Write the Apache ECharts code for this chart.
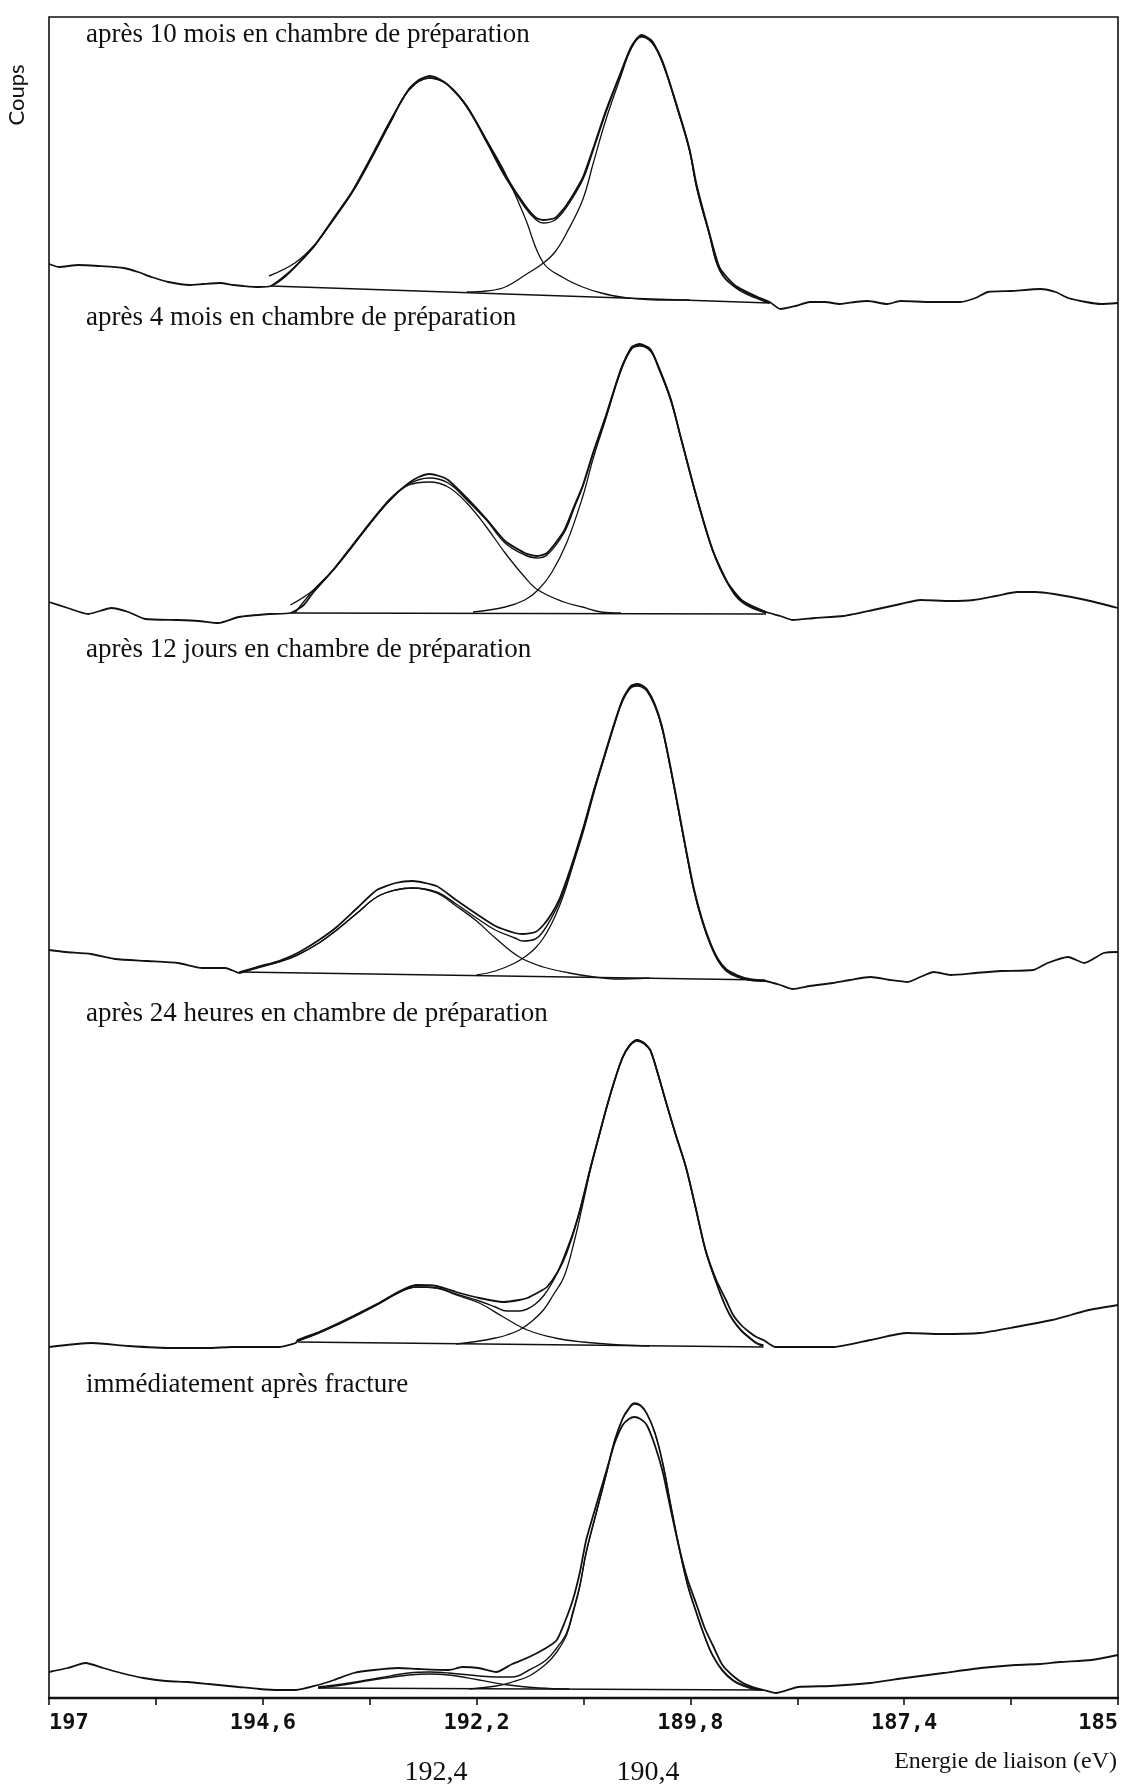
<!DOCTYPE html>
<html>
<head>
<meta charset="utf-8">
<script src="https://cdn.jsdelivr.net/npm/echarts@6/dist/echarts.min.js"></script>
<style>
html,body{margin:0;padding:0;background:#fff;}
#chart{width:1137px;height:1789px;}
</style>
</head>
<body>
<div id="chart"></div>
<script>
// ---- axis / text data ----
const xTickValues = [197, 194.6, 192.2, 189.8, 187.4, 185];
const xTickLabels = ['197', '194,6', '192,2', '189,8', '187,4', '185'];
const panelTitles = [
  'après 10 mois en chambre de préparation',
  'après 4 mois en chambre de préparation',
  'après 12 jours en chambre de préparation',
  'après 24 heures en chambre de préparation',
  'immédiatement après fracture'
];
const peakLabels = ['192,4', '190,4'];
const yLabel = 'Coups';
const xLabel = 'Energie de liaison (eV)';

// ---- panel 1 : après 10 mois  ([energie eV, coups]) ----
const p1Raw = [[197.00,46],[196.89,43],[196.67,45],[196.45,44],[196.16,42],[196.00,38],[195.85,33],[195.66,28],[195.42,25],[195.27,26],[195.08,27],[194.93,25],[194.82,24],[194.65,23],[194.51,24],[194.37,32],[194.24,43],[194.03,63],[193.81,91],[193.60,118],[193.39,152],[193.17,189],[192.96,221],[192.85,230],[192.73,234],[192.62,231],[192.52,225],[192.31,204],[192.09,170],[191.88,135],[191.66,105],[191.53,92],[191.45,90],[191.32,92],[191.19,105],[191.01,132],[190.89,162],[190.75,199],[190.58,238],[190.46,264],[190.35,275],[190.23,269],[190.11,248],[189.94,201],[189.81,161],[189.73,125],[189.59,78],[189.47,42],[189.29,24],[189.07,14],[188.91,8],[188.79,1],[188.62,4],[188.46,8],[188.29,8],[188.12,6],[187.95,8],[187.81,9],[187.59,6],[187.44,9],[187.10,8],[186.77,8],[186.60,12],[186.46,18],[186.20,19],[185.87,21],[185.70,18],[185.56,12],[185.36,8],[185.19,6],[185.00,7]];
const p1Fit = [[194.53,34],[194.24,47],[194.03,64],[193.81,90],[193.60,117],[193.39,150],[193.17,187],[192.96,220],[192.73,232],[192.52,225],[192.31,203],[192.09,168],[191.88,133],[191.66,103],[191.53,90],[191.45,87],[191.32,90],[191.19,103],[191.01,130],[190.89,160],[190.75,197],[190.58,237],[190.46,263],[190.35,274],[190.23,268],[190.11,247],[189.94,200],[189.81,160],[189.73,123],[189.59,77],[189.47,40],[189.29,23],[189.07,13],[188.91,7]];
const p1Peak1 = [[194.51,24],[194.46,27],[194.24,43],[194.03,63],[193.81,90],[193.60,117],[193.39,150],[193.17,187],[192.96,220],[192.73,232],[192.52,225],[192.31,203],[192.09,170],[191.88,137],[191.66,93],[191.45,47],[191.22,32],[191.01,23],[190.80,17],[190.58,13],[190.16,10],[189.81,10]];
const p1Peak2 = [[192.31,18],[192.09,19],[191.88,23],[191.62,37],[191.45,47],[191.32,58],[191.19,77],[191.01,110],[190.89,147],[190.75,190],[190.58,234],[190.46,262],[190.35,273],[190.23,267],[190.11,246],[189.94,199],[189.81,159],[189.73,122],[189.59,76],[189.47,39],[189.29,22],[189.07,12],[188.91,7]];
const p1Base = [[194.51,24],[188.91,7]];

// ---- panel 2 : après 4 mois ----
const p2Raw = [[197.00,28],[196.79,22],[196.56,16],[196.30,22],[196.11,18],[195.92,11],[195.55,10],[195.32,9],[195.10,7],[194.87,13],[194.53,16],[194.29,17],[194.14,25],[194.03,38],[193.81,60],[193.60,84],[193.39,108],[193.17,131],[192.96,147],[192.85,153],[192.73,156],[192.62,154],[192.52,150],[192.31,132],[192.09,111],[191.88,89],[191.66,77],[191.53,74],[191.41,77],[191.22,99],[191.10,125],[191.01,144],[190.89,178],[190.75,214],[190.58,261],[190.46,283],[190.37,286],[190.25,281],[190.16,264],[190.02,231],[189.90,190],[189.73,133],[189.55,80],[189.38,47],[189.21,29],[188.95,18],[188.79,14],[188.65,10],[188.40,12],[188.08,14],[187.75,20],[187.44,26],[187.22,30],[186.88,29],[186.62,30],[186.37,34],[186.13,38],[185.93,38],[185.72,36],[185.36,30],[185.00,22]];
const p2Fit = [[194.29,25],[194.03,40],[193.81,60],[193.60,83],[193.39,107],[193.17,130],[192.96,146],[192.73,152],[192.52,147],[192.31,130],[192.09,110],[191.88,87],[191.66,75],[191.53,72],[191.41,75],[191.22,97],[191.10,123],[191.01,143],[190.89,177],[190.75,213],[190.58,260],[190.46,282],[190.37,285],[190.25,280],[190.16,263],[190.02,230],[189.90,190],[189.73,133],[189.55,80],[189.38,47],[189.21,28],[188.95,18]];
const p2Peak1 = [[194.24,17],[194.03,40],[193.81,60],[193.60,83],[193.39,107],[193.17,130],[192.96,145],[192.73,148],[192.52,143],[192.31,127],[192.09,103],[191.88,77],[191.66,53],[191.51,40],[191.22,28],[191.01,23],[190.80,18],[190.58,17]];
const p2Peak2 = [[192.24,18],[191.88,23],[191.66,30],[191.51,40],[191.36,57],[191.19,87],[191.01,133],[190.89,172],[190.75,211],[190.58,259],[190.46,281],[190.37,284],[190.25,279],[190.16,262],[190.02,229],[189.90,189],[189.73,132],[189.55,79],[189.38,46],[189.21,27],[188.95,17]];
const p2Base = [[194.29,17],[188.95,16]];

// ---- panel 3 : après 12 jours ----
const p3Raw = [[197.00,50],[196.82,48],[196.53,46],[196.26,41],[195.89,39],[195.55,37],[195.28,32],[195.02,32],[194.86,27],[194.66,33],[194.42,39],[194.21,47],[193.97,60],[193.77,73],[193.54,92],[193.32,110],[193.11,117],[192.92,119],[192.65,114],[192.43,100],[192.20,86],[191.99,74],[191.77,67],[191.68,66],[191.54,68],[191.45,75],[191.36,86],[191.27,101],[191.19,120],[191.10,144],[190.99,176],[190.88,211],[190.76,246],[190.65,278],[190.56,301],[190.47,314],[190.40,316],[190.35,315],[190.29,311],[190.20,296],[190.12,274],[190.03,236],[189.94,194],[189.85,151],[189.76,111],[189.67,81],[189.58,58],[189.49,41],[189.40,31],[189.28,25],[189.14,21],[188.96,19],[188.79,15],[188.65,11],[188.46,14],[188.20,17],[188.01,20],[187.78,23],[187.56,20],[187.36,18],[187.22,23],[187.07,28],[186.88,25],[186.60,27],[186.32,29],[185.95,30],[185.79,37],[185.56,43],[185.38,37],[185.16,47],[185.00,48]];
const p3Fit = [[194.86,28],[194.66,33],[194.42,38],[194.21,45],[193.97,57],[193.77,70],[193.54,87],[193.32,103],[193.11,110],[192.92,112],[192.65,108],[192.43,96],[192.20,82],[191.99,70],[191.77,62],[191.68,59],[191.54,61],[191.45,69],[191.36,82],[191.27,98],[191.19,117],[191.10,142],[190.99,175],[190.88,210],[190.76,245],[190.65,277],[190.56,300],[190.47,313],[190.40,315],[190.35,314],[190.29,310],[190.20,295],[190.12,273],[190.03,235],[189.94,193],[189.85,150],[189.76,110],[189.67,80],[189.58,57],[189.49,40],[189.40,30],[189.28,24],[189.14,20],[188.96,19]];
const p3Peak1 = [[194.86,28],[194.66,32],[194.42,38],[194.21,45],[193.97,57],[193.77,70],[193.54,87],[193.32,103],[193.11,110],[192.92,112],[192.65,107],[192.43,94],[192.20,79],[191.99,62],[191.72,43],[191.45,33],[191.16,27],[190.88,23],[190.65,21],[190.26,22]];
const p3Peak2 = [[192.20,25],[191.99,29],[191.77,37],[191.63,45],[191.54,52],[191.45,62],[191.36,76],[191.27,94],[191.19,114],[191.10,140],[190.99,172],[190.88,208],[190.76,244],[190.65,276],[190.56,299],[190.47,312],[190.40,314],[190.35,313],[190.29,309],[190.20,294],[190.12,272],[190.03,234],[189.94,192],[189.85,149],[189.76,109],[189.67,79],[189.58,56],[189.49,39],[189.40,29],[189.28,23],[189.14,20],[188.96,19]];
const p3Base = [[194.86,28],[188.96,20]];

// ---- panel 4 : après 24 heures ----
const p4Raw = [[197.00,13],[196.52,17],[196.11,14],[195.62,12],[195.21,12],[194.95,13],[194.71,13],[194.42,13],[194.23,17],[194.21,20],[193.97,28],[193.77,36],[193.54,46],[193.32,56],[193.06,69],[192.88,75],[192.65,74],[192.43,68],[192.17,62],[191.90,58],[191.72,60],[191.63,62],[191.50,68],[191.41,73],[191.29,88],[191.19,107],[191.06,143],[190.92,193],[190.83,223],[190.74,253],[190.65,280],[190.56,303],[190.48,315],[190.40,320],[190.32,317],[190.25,310],[190.17,288],[190.08,260],[189.97,227],[189.85,193],[189.74,152],[189.63,110],[189.51,80],[189.40,60],[189.32,45],[189.23,35],[189.14,28],[189.06,23],[188.98,20],[188.85,13],[188.57,13],[188.19,13],[187.78,20],[187.37,27],[186.99,26],[186.55,27],[186.15,33],[185.74,40],[185.53,45],[185.33,50],[185.00,55]];
const p4Fit = [[194.21,19],[193.97,27],[193.77,35],[193.54,45],[193.32,55],[193.06,68],[192.88,73],[192.65,72],[192.43,66],[192.17,59],[191.99,53],[191.86,49],[191.72,49],[191.63,51],[191.54,56],[191.45,64],[191.36,76],[191.27,92],[191.19,110],[191.10,132],[191.01,160],[190.92,193],[190.83,223],[190.74,253],[190.65,280],[190.56,303],[190.48,315],[190.40,320],[190.32,317],[190.25,310],[190.17,288],[190.08,260],[189.97,227],[189.85,193],[189.74,152],[189.63,110],[189.51,78],[189.40,53],[189.32,40],[189.23,30],[189.14,23],[189.05,17],[188.98,15]];
const p4Peak1 = [[194.21,19],[193.97,27],[193.77,35],[193.54,45],[193.32,55],[193.06,68],[192.88,73],[192.65,72],[192.43,65],[192.17,57],[191.90,43],[191.63,30],[191.32,22],[191.01,18],[190.59,15],[190.26,14]];
const p4Peak2 = [[192.43,16],[192.17,19],[191.99,22],[191.86,25],[191.72,30],[191.59,38],[191.45,50],[191.34,65],[191.22,83],[191.10,120],[191.01,155],[190.92,191],[190.83,222],[190.74,252],[190.65,279],[190.56,302],[190.48,314],[190.40,319],[190.32,316],[190.25,309],[190.17,287],[190.08,259],[189.97,226],[189.85,192],[189.74,151],[189.63,109],[189.51,77],[189.40,52],[189.32,39],[189.23,29],[189.14,22],[189.05,16],[188.98,14]];
const p4Base = [[194.21,18],[188.98,13]];

// ---- panel 5 : immédiatement après fracture ----
const p5Raw = [[197.00,26],[196.79,30],[196.59,35],[196.39,30],[196.19,25],[195.94,20],[195.69,17],[195.44,16],[195.21,14],[194.87,11],[194.64,9],[194.42,8],[194.23,8],[193.98,13],[193.80,18],[193.58,25],[193.35,28],[193.08,30],[192.85,29],[192.51,28],[192.36,31],[192.18,30],[191.98,26],[191.80,34],[191.61,41],[191.42,50],[191.30,58],[191.21,76],[191.12,98],[191.04,126],[190.97,158],[190.85,195],[190.74,228],[190.65,255],[190.56,273],[190.49,279],[190.43,281],[190.36,279],[190.29,273],[190.20,253],[190.11,226],[190.02,188],[189.92,148],[189.83,118],[189.73,93],[189.64,70],[189.55,53],[189.44,33],[189.32,22],[189.21,15],[189.10,11],[188.98,8],[188.84,5],[188.59,11],[188.23,12],[187.78,15],[187.39,20],[186.96,25],[186.54,30],[186.15,33],[185.87,34],[185.65,36],[185.30,38],[185.00,43]];
const p5Fit = [[193.98,11],[193.63,15],[193.30,20],[192.96,25],[192.73,26],[192.51,25],[192.17,22],[191.98,21],[191.80,21],[191.61,28],[191.42,38],[191.30,50],[191.19,65],[191.12,86],[191.04,113],[190.97,146],[190.85,188],[190.74,226],[190.65,258],[190.56,280],[190.49,290],[190.43,295],[190.36,293],[190.29,285],[190.20,266],[190.11,235],[190.02,193],[189.92,148],[189.83,113],[189.73,85],[189.64,62],[189.55,43],[189.44,28],[189.32,18],[189.21,13],[189.10,10],[188.98,8]];
const p5Peak1 = [[193.98,10],[193.63,14],[193.30,19],[192.96,23],[192.73,24],[192.51,23],[192.17,18],[191.84,13],[191.50,10],[191.16,9]];
const p5Peak2 = [[192.28,9],[191.98,12],[191.80,16],[191.61,22],[191.42,34],[191.30,46],[191.19,63],[191.12,84],[191.04,112],[190.97,145],[190.85,187],[190.74,225],[190.65,257],[190.56,279],[190.49,289],[190.43,294],[190.36,292],[190.29,284],[190.20,265],[190.11,234],[190.02,192],[189.92,147],[189.83,112],[189.73,84],[189.64,61],[189.55,42],[189.44,27],[189.32,17],[189.21,12],[189.10,9],[188.98,8]];
const p5Base = [[193.98,10],[188.98,8]];

// ---- layout ----
const W = 1137, H = 1789;
const plotLeft = 49, plotRight = 19;
const frameTop = 17, axisY = 1698;
const panelBoxes = [ // [top, height] of each stacked panel (count range 0..height)
  [10, 300], [330, 300], [660, 340], [1020, 340], [1380, 318]
];
const titleTops = [21, 304, 636, 1000, 1371];
const panels = [
  {raw: p1Raw, fit: p1Fit, c1: p1Peak1, c2: p1Peak2, bg: p1Base},
  {raw: p2Raw, fit: p2Fit, c1: p2Peak1, c2: p2Peak2, bg: p2Base},
  {raw: p3Raw, fit: p3Fit, c1: p3Peak1, c2: p3Peak2, bg: p3Base},
  {raw: p4Raw, fit: p4Fit, c1: p4Peak1, c2: p4Peak2, bg: p4Base},
  {raw: p5Raw, fit: p5Fit, c1: p5Peak1, c2: p5Peak2, bg: p5Base}
];

const ink = '#111111';
const serif = '"Liberation Serif", "Times New Roman", serif';

const grids = [{left: plotLeft, right: plotRight, top: frameTop, bottom: H - axisY,
  show: true, borderColor: ink, borderWidth: 1.6, backgroundColor: 'transparent'}];
const xAxes = [{
  gridIndex: 0, type: 'value', min: 185, max: 197, interval: 1.2, inverse: true,
  axisLine: {show: true, onZero: false, lineStyle: {color: ink, width: 2.4}},
  axisTick: {show: true, length: 7, inside: false, lineStyle: {color: ink, width: 1.6}},
  splitLine: {show: false},
  axisLabel: {
    margin: 14, color: ink, fontFamily: 'DejaVu Sans Mono', fontWeight: 'bold', fontSize: 22,
    alignMinLabel: 'right', alignMaxLabel: 'left',
    formatter: function (v) {
      for (let i = 0; i < xTickValues.length; i++) {
        if (Math.abs(v - xTickValues[i]) < 0.01) return xTickLabels[i];
      }
      return '';
    }
  }
}];
const yAxes = [{gridIndex: 0, type: 'value', min: 0, max: 1, show: false}];
const series = [];

panels.forEach(function (p, i) {
  const g = i + 1;
  grids.push({left: plotLeft, right: plotRight, top: panelBoxes[i][0], height: panelBoxes[i][1], show: false});
  xAxes.push({gridIndex: g, type: 'value', min: 185, max: 197, inverse: true, show: false});
  yAxes.push({gridIndex: g, type: 'value', min: 0, max: panelBoxes[i][1], show: false});
  const mk = function (name, data, width, smooth) {
    return {name: name, type: 'line', xAxisIndex: g, yAxisIndex: g, data: data,
      showSymbol: false, smooth: smooth, silent: true, animation: false,
      lineStyle: {color: ink, width: width}, z: 3};
  };
  series.push(mk('base' + g, p.bg, 1.6, false));
  series.push(mk('pic1_' + g, p.c1, 1.3, 0.4));
  series.push(mk('pic2_' + g, p.c2, 1.3, 0.4));
  series.push(mk('fit' + g, p.fit, 1.4, 0.4));
  series.push(mk('raw' + g, p.raw, 1.8, 0.2));
});

const titles = panelTitles.map(function (t, i) {
  return {text: t, left: 86, top: titleTops[i], padding: 0,
    textStyle: {fontFamily: serif, fontSize: 27, fontWeight: 'normal', color: ink}};
});

const chart = echarts.init(document.getElementById('chart'), null, {renderer: 'canvas', width: W, height: H});
chart.setOption({
  backgroundColor: '#fff',
  animation: false,
  title: titles,
  grid: grids,
  xAxis: xAxes,
  yAxis: yAxes,
  series: series,
  graphic: [
    {type: 'text', x: 17, y: 95, rotation: Math.PI / 2,
      style: {text: yLabel, fill: ink, font: '22px Lato', textAlign: 'center', textVerticalAlign: 'middle'}},
    {type: 'text', x: 1117, y: 1762,
      style: {text: xLabel, fill: ink, font: '24px "Liberation Serif"', textAlign: 'right', textVerticalAlign: 'middle'}},
    {type: 'text', x: 436, y: 1773,
      style: {text: peakLabels[0], fill: ink, font: '28px "Liberation Serif"', textAlign: 'center', textVerticalAlign: 'middle'}},
    {type: 'text', x: 648, y: 1773,
      style: {text: peakLabels[1], fill: ink, font: '28px "Liberation Serif"', textAlign: 'center', textVerticalAlign: 'middle'}}
  ]
});
</script>
</body>
</html>
